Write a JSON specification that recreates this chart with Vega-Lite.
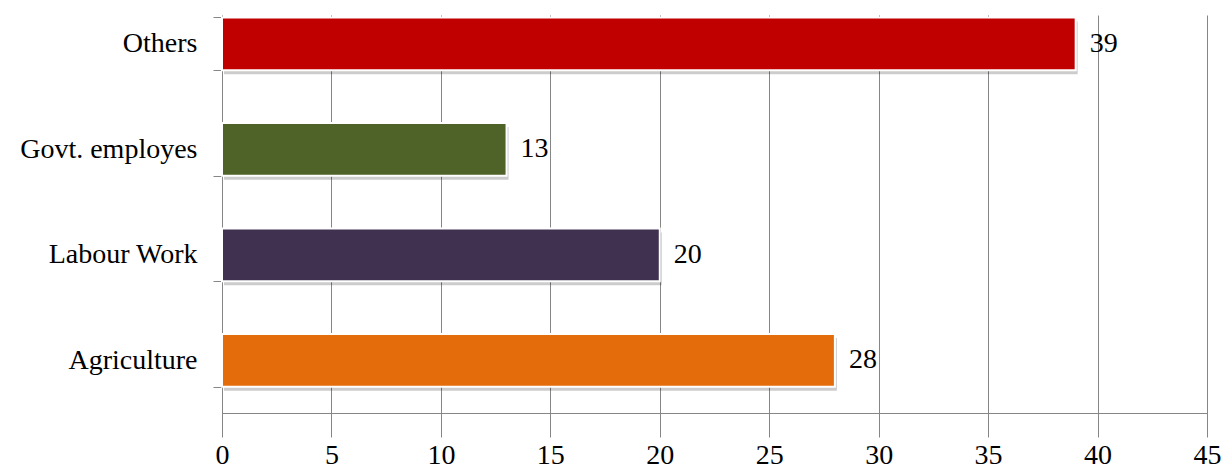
{
  "$schema": "https://vega.github.io/schema/vega-lite/v6.json",
  "width": 985,
  "height": 398,
  "autosize": {"type": "none"},
  "padding": {"left": 222, "top": 15, "right": 16, "bottom": 55},
  "background": "white",
  "config": {"view": {"stroke": null}},
  "data": {
    "values": [
      {"category": "Others", "value": 39, "color": "#C00000"},
      {"category": "Govt. employes", "value": 13, "color": "#4F6228"},
      {"category": "Labour Work", "value": 20, "color": "#403151"},
      {"category": "Agriculture", "value": 28, "color": "#E46C0A"}
    ]
  },
  "encoding": {
    "y": {
      "field": "category",
      "type": "nominal",
      "sort": ["Others", "Govt. employes", "Labour Work", "Agriculture"],
      "scale": {"range": [-24, 398], "paddingInner": 0.5, "paddingOuter": 0.25},
      "axis": {
        "title": null,
        "domain": false,
        "tickBand": "extent",
        "tickSize": 9,
        "tickColor": "#868686",
        "labelFont": "Liberation Serif",
        "labelFontSize": 28,
        "labelColor": "#000000",
        "labelPadding": 16,
        "labelLimit": 300
      }
    },
    "x": {
      "field": "value",
      "type": "quantitative",
      "scale": {"domain": [0, 45], "nice": false},
      "axis": {
        "title": null,
        "values": [0, 5, 10, 15, 20, 25, 30, 35, 40, 45],
        "grid": true,
        "gridColor": "#868686",
        "gridOpacity": 1,
        "domainColor": "#868686",
        "tickColor": "#868686",
        "tickSize": 9,
        "labelFont": "Liberation Serif",
        "labelFontSize": 28,
        "labelColor": "#000000",
        "labelPadding": 19,
        "labelFlush": false
      }
    }
  },
  "layer": [
    {
      "mark": {"type": "bar", "color": "#000000", "opacity": 0.2, "xOffset": 2, "yOffset": 4}
    },
    {
      "mark": {"type": "bar", "stroke": "#ffffff", "strokeWidth": 2},
      "encoding": {
        "color": {"field": "color", "type": "nominal", "scale": null}
      }
    },
    {
      "mark": {"type": "text", "align": "left", "baseline": "middle", "dx": 14, "font": "Liberation Serif", "fontSize": 28, "color": "#000000"},
      "encoding": {"text": {"field": "value", "type": "quantitative"}}
    }
  ]
}
